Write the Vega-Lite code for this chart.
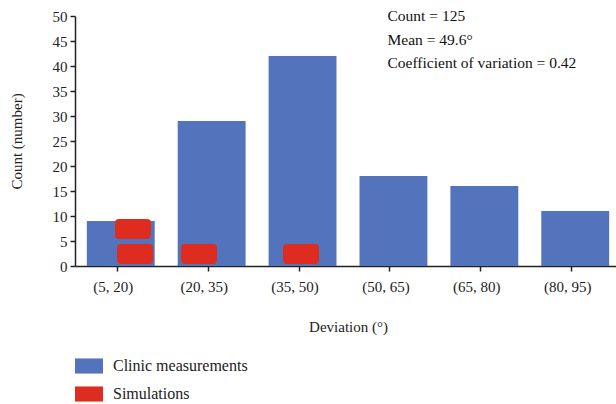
{
  "$schema": "https://vega.github.io/schema/vega-lite/v6.json",
  "width": 546,
  "height": 250,
  "autosize": "none",
  "padding": {"left": 75, "top": 16, "right": 0, "bottom": 138},
  "background": "white",
  "config": {
    "font": "Liberation Serif",
    "view": {"stroke": null},
    "axis": {
      "domainColor": "#222222",
      "tickColor": "#222222",
      "labelColor": "#222222",
      "titleColor": "#222222",
      "labelFont": "Liberation Serif",
      "titleFont": "Liberation Serif",
      "labelFontSize": 15,
      "titleFontSize": 15,
      "titleFontWeight": "normal",
      "grid": false,
      "tickSize": 5,
      "domainWidth": 1.5,
      "tickWidth": 1.5,
      "labelOverlap": false
    },
    "legend": {
      "labelFont": "Liberation Serif",
      "labelFontSize": 16,
      "labelColor": "#222222"
    }
  },
  "datasets": {
    "clinic": [
      {"bin": "(5, 20)", "count": 9},
      {"bin": "(20, 35)", "count": 29},
      {"bin": "(35, 50)", "count": 42},
      {"bin": "(50, 65)", "count": 18},
      {"bin": "(65, 80)", "count": 16},
      {"bin": "(80, 95)", "count": 11}
    ],
    "sims": [
      {"bin": "(5, 20)", "value": 2.4, "pos": 0.154},
      {"bin": "(5, 20)", "value": 7.4, "pos": 0.132},
      {"bin": "(20, 35)", "value": 2.4, "pos": 0.857},
      {"bin": "(35, 50)", "value": 2.4, "pos": 1.978}
    ],
    "stats": [
      {"bin": "(50, 65)", "y": 50, "label": ["Count = 125", "Mean = 49.6°", "Coefficient of variation = 0.42"]}
    ]
  },
  "resolve": {"scale": {"x": "independent"}, "axis": {"x": "independent"}},
  "layer": [
    {
      "data": {"name": "clinic"},
      "mark": {"type": "bar"},
      "encoding": {
        "x": {
          "field": "bin", "type": "nominal", "sort": null,
          "scale": {"paddingInner": 0.253, "paddingOuter": 0.13},
          "axis": {"title": "Deviation (°)", "labelAngle": 0, "labelPadding": 8, "titlePadding": 25, "tickOffset": -4, "labelOffset": -4}
        },
        "y": {
          "field": "count", "type": "quantitative",
          "scale": {"domain": [0, 50]},
          "axis": {"title": "Count (number)", "values": [0, 5, 10, 15, 20, 25, 30, 35, 40, 45, 50], "labelPadding": 3, "titlePadding": 28}
        },
        "color": {
          "datum": "Clinic measurements",
          "scale": {"domain": ["Clinic measurements", "Simulations"], "range": ["#5374bc", "#de2d20"]},
          "legend": {
            "title": null, "orient": "none", "legendX": 0, "legendY": 336,
            "symbolType": "M-1,-0.54H1V0.54H-1Z", "symbolSize": 784,
            "symbolStrokeWidth": 0, "rowPadding": 6, "labelOffset": 10
          }
        }
      }
    },
    {
      "data": {"name": "sims"},
      "mark": {
        "type": "point", "filled": true, "opacity": 1, "size": 1296,
        "shape": "M -0.78 -0.556 L 0.78 -0.556 Q 1 -0.556 1 -0.336 L 1 0.336 Q 1 0.556 0.78 0.556 L -0.78 0.556 Q -1 0.556 -1 0.336 L -1 -0.336 Q -1 -0.556 -0.78 -0.556 Z"
      },
      "encoding": {
        "x": {
          "field": "pos", "type": "quantitative",
          "scale": {"domain": [-0.5055, 5.4945], "nice": false, "zero": false},
          "axis": null
        },
        "y": {"field": "value", "type": "quantitative", "axis": {"title": "Count (number)", "values": [0, 5, 10, 15, 20, 25, 30, 35, 40, 45, 50], "labelPadding": 3, "titlePadding": 28}},
        "color": {"datum": "Simulations"}
      }
    },
    {
      "data": {"name": "stats"},
      "mark": {"type": "text", "align": "left", "baseline": "middle", "fontSize": 15.5, "lineHeight": 23.5, "color": "#111111", "dx": -6},
      "encoding": {
        "x": {
          "field": "bin", "type": "nominal", "sort": null,
          "scale": {"domain": ["(5, 20)", "(20, 35)", "(35, 50)", "(50, 65)", "(65, 80)", "(80, 95)"], "paddingInner": 0.253, "paddingOuter": 0.13},
          "axis": null
        },
        "y": {"field": "y", "type": "quantitative", "axis": {"title": "Count (number)", "values": [0, 5, 10, 15, 20, 25, 30, 35, 40, 45, 50], "labelPadding": 3, "titlePadding": 28}},
        "text": {"field": "label"}
      }
    }
  ]
}
